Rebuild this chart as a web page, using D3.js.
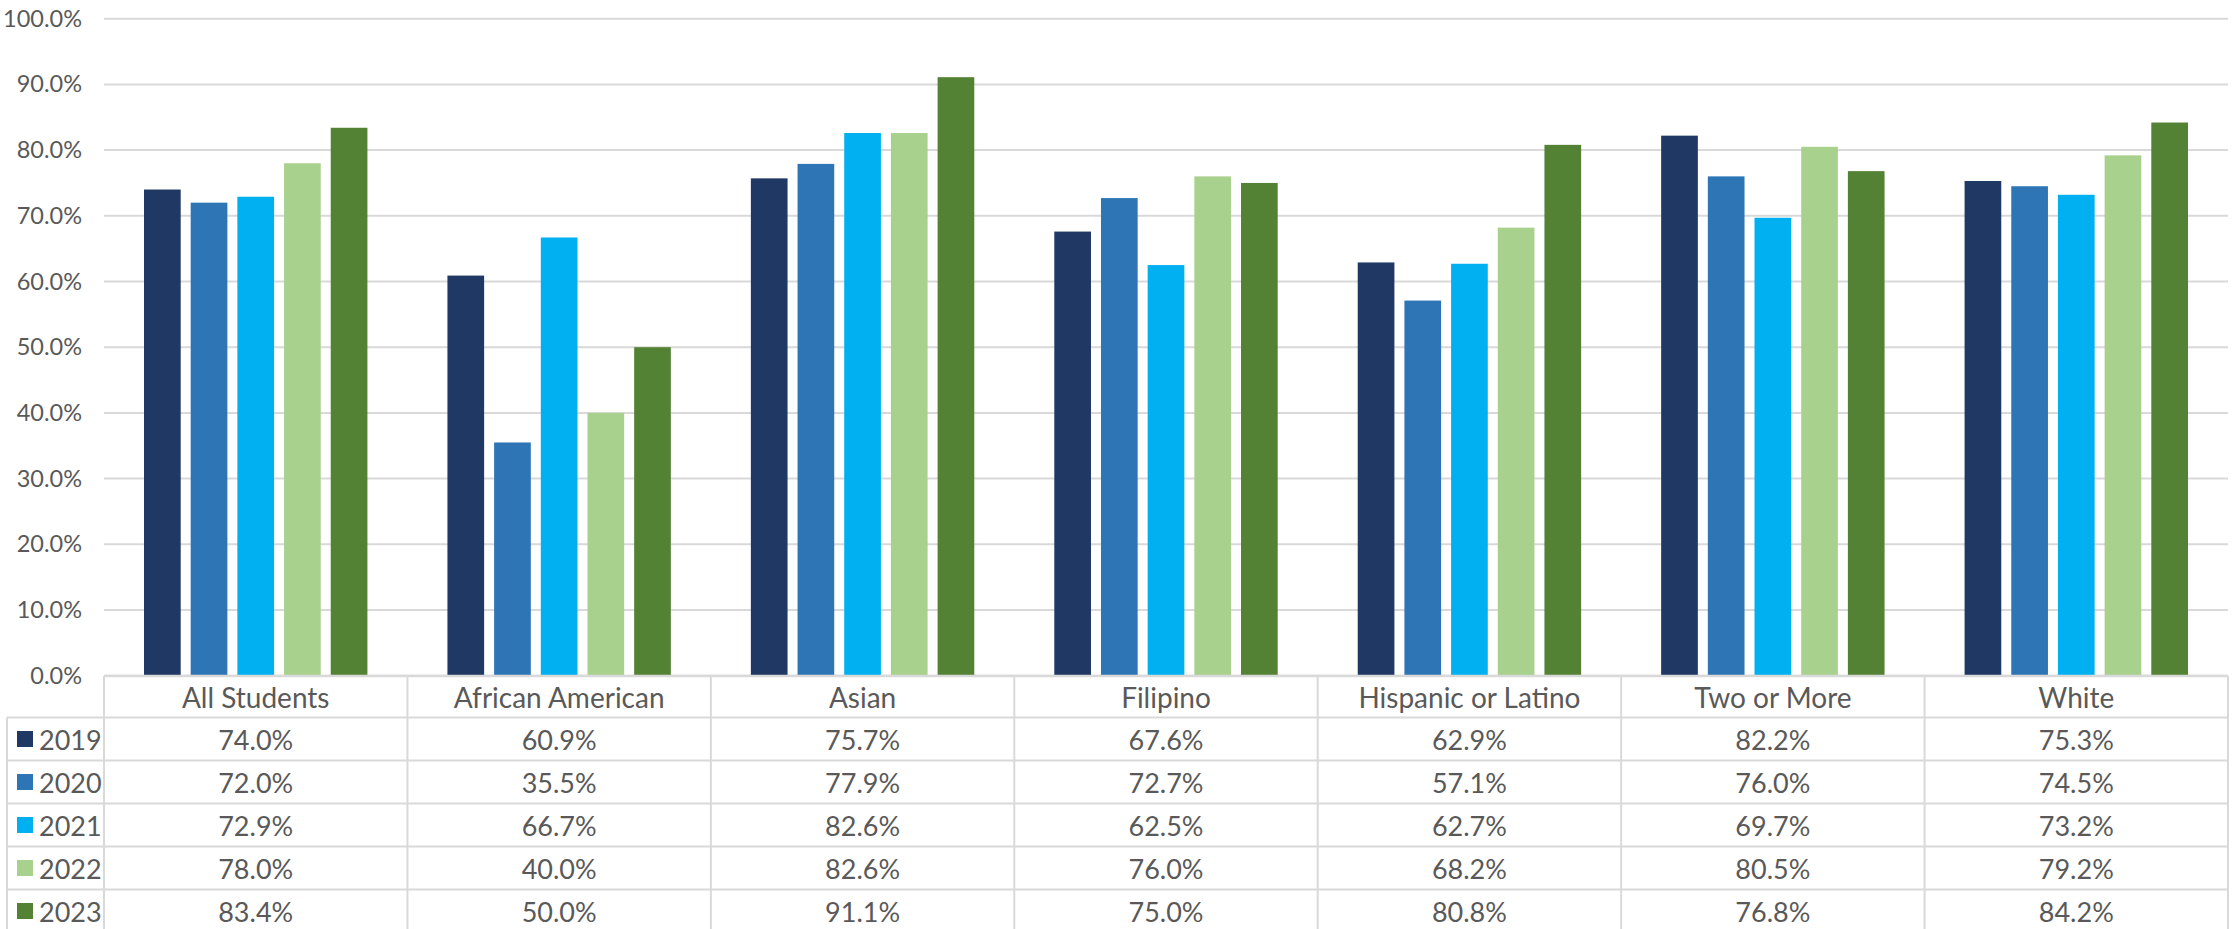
<!DOCTYPE html>
<html><head><meta charset="utf-8">
<script src="https://cdn.jsdelivr.net/npm/d3@7"></script>
<style>
html,body{margin:0;padding:0;background:#fff;}
svg text{font-family:Lato,"Noto Sans",sans-serif;fill:#595959;}
</style></head>
<body><svg id="c" width="2237" height="929"></svg>
<script>
const categories = ["All Students","African American","Asian","Filipino","Hispanic or Latino","Two or More","White"];
const years = ["2019","2020","2021","2022","2023"];
const v2019 = [74.0,60.9,75.7,67.6,62.9,82.2,75.3];
const v2020 = [72.0,35.5,77.9,72.7,57.1,76.0,74.5];
const v2021 = [72.9,66.7,82.6,62.5,62.7,69.7,73.2];
const v2022 = [78.0,40.0,82.6,76.0,68.2,80.5,79.2];
const v2023 = [83.4,50.0,91.1,75.0,80.8,76.8,84.2];
const colors = ["#203864","#2E75B6","#00B0F0","#A9D18E","#548235"];
const yTicks = [0,10,20,30,40,50,60,70,80,90,100];

(function(){
const series = [v2019,v2020,v2021,v2022,v2023];
const svg = d3.select("#c");
const pLeft = 104, pRight = 2228, pTop = 18.7, pBottom = 675.7;
const tableTop = 676, headerH = 41.5, rowH = 43, legendLeft = 7;
const grid = "#D9D9D9";

const x0 = d3.scaleBand().domain(categories).range([pLeft,pRight]).padding(0);
const x1 = d3.scaleBand().domain(years).range([0,x0.bandwidth()]).paddingInner(0.214).paddingOuter(0.857);
const y = d3.scaleLinear().domain([0,100]).range([pBottom,pTop]);

svg.append("g").selectAll("line").data(yTicks).join("line")
  .attr("x1",pLeft).attr("x2",pRight)
  .attr("y1",d=>y(d)).attr("y2",d=>y(d))
  .attr("stroke",grid).attr("stroke-width",2);

const yAxis = d3.axisLeft(y).tickValues(yTicks).tickSize(0).tickPadding(0).tickFormat(d=>d3.format(".1f")(d)+"%");
const ya = svg.append("g").attr("transform","translate(82,0)").call(yAxis);
ya.select(".domain").remove();
ya.selectAll("text").attr("font-size",23.5).attr("font-family","Lato,'Noto Sans',sans-serif").attr("fill","#595959");

const g = svg.append("g");
years.forEach((yr,i)=>{
  g.append("g").selectAll("rect").data(categories).join("rect")
    .attr("x",(c)=>x0(c)+x1(yr))
    .attr("width",x1.bandwidth())
    .attr("y",(c,j)=>y(series[i][j]))
    .attr("height",(c,j)=>y(0)-y(series[i][j]))
    .attr("fill",colors[i]);
});

const t = svg.append("g");
const tableBottom = tableTop + headerH + rowH*years.length;
t.append("line").attr("x1",pLeft).attr("x2",pRight).attr("y1",tableTop).attr("y2",tableTop).attr("stroke",grid).attr("stroke-width",2.5);
for(let r=0;r<=years.length;r++){
  const yy = tableTop + headerH + rowH*r;
  t.append("line").attr("x1",legendLeft).attr("x2",pRight).attr("y1",yy).attr("y2",yy).attr("stroke",grid).attr("stroke-width",2);
}
categories.forEach(c=>{
  t.append("line").attr("x1",x0(c)).attr("x2",x0(c)).attr("y1",tableTop).attr("y2",tableBottom).attr("stroke",grid).attr("stroke-width",2);
});
t.append("line").attr("x1",pRight).attr("x2",pRight).attr("y1",tableTop).attr("y2",tableBottom).attr("stroke",grid).attr("stroke-width",2);
t.append("line").attr("x1",legendLeft).attr("x2",legendLeft).attr("y1",tableTop+headerH).attr("y2",tableBottom).attr("stroke",grid).attr("stroke-width",2);

t.selectAll("text.h").data(categories).join("text").attr("class","h")
  .attr("x",c=>x0(c)+x0.bandwidth()/2).attr("y",tableTop+headerH/2)
  .attr("text-anchor","middle").attr("dominant-baseline","central")
  .attr("font-size",28).text(c=>c);

years.forEach((yr,i)=>{
  const cy = tableTop + headerH + rowH*i + rowH/2;
  t.append("rect").attr("x",17).attr("y",cy-8).attr("width",16).attr("height",16).attr("fill",colors[i]);
  t.append("text").attr("x",39).attr("y",cy).attr("dominant-baseline","central").attr("font-size",27).text(yr);
  t.append("g").selectAll("text").data(categories).join("text")
    .attr("x",c=>x0(c)+x0.bandwidth()/2).attr("y",cy)
    .attr("text-anchor","middle").attr("dominant-baseline","central")
    .attr("font-size",27).text((c,j)=>d3.format(".1f")(series[i][j])+"%");
});
})();
</script></body></html>
